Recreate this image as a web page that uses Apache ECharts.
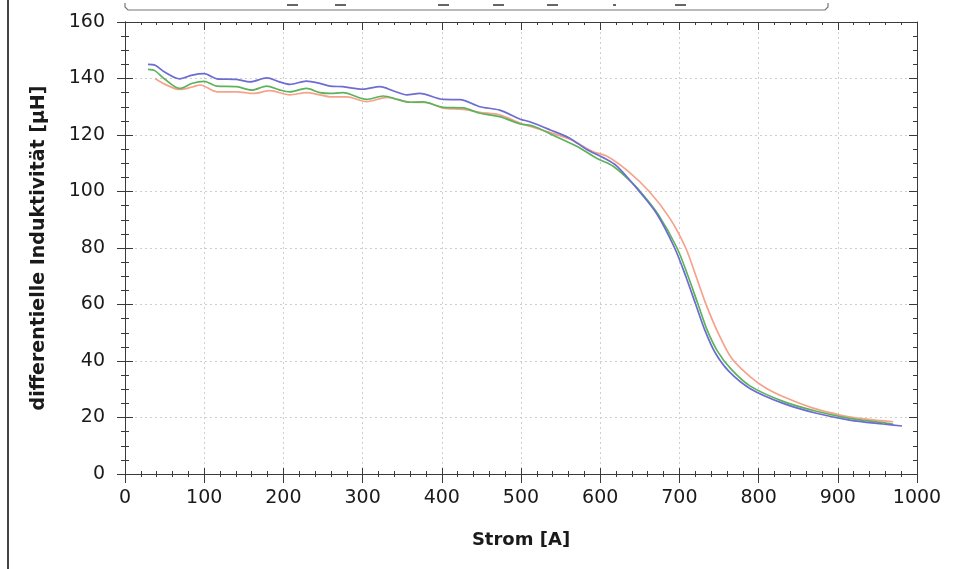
<!DOCTYPE html>
<html>
<head>
<meta charset="utf-8">
<script src="https://cdn.jsdelivr.net/npm/echarts@6/dist/echarts.min.js"></script>
<style>
html,body{margin:0;padding:0;background:#fff;}
#c{width:954px;height:569px;}
</style>
</head>
<body>
<div id="c"></div>
<script>
// Strom [A] / differentielle Induktivität [µH]
const blueX = [29, 38, 50, 69, 85, 100, 116, 141, 158, 179, 195, 208, 229, 246, 259, 275, 300, 322, 340, 356, 372, 402, 423, 448, 473, 499, 511, 537, 562, 583, 603, 621, 648, 671, 694, 708, 720, 732, 745, 762, 789, 831, 873, 915, 957, 981];
const blueY = [145.0, 144.7, 142.3, 139.9, 141.2, 141.7, 139.9, 139.7, 138.8, 140.2, 138.8, 137.9, 139.1, 138.3, 137.3, 137.1, 136.2, 137.1, 135.5, 134.2, 134.7, 132.6, 132.5, 130.0, 128.8, 125.6, 124.7, 121.8, 118.8, 114.9, 112.1, 109.0, 100.5, 92.3, 80.0, 70.0, 60.5, 51.0, 43.0, 36.5, 30.3, 25.0, 21.5, 19.1, 17.7, 17.0];

const greenX = [29, 38, 50, 69, 85, 100, 116, 141, 160, 179, 195, 208, 229, 246, 259, 275, 305, 326, 345, 360, 376, 402, 427, 448, 473, 499, 515, 540, 571, 596, 616, 634, 650, 673, 697, 711, 723, 735, 748, 765, 789, 831, 873, 915, 957, 970];
const greenY = [143.2, 142.7, 139.8, 136.5, 138.3, 139.0, 137.3, 137.1, 135.9, 137.3, 136.0, 135.3, 136.5, 135.0, 134.7, 135.0, 132.6, 133.8, 132.5, 131.6, 131.7, 129.8, 129.6, 127.7, 126.5, 123.9, 123.2, 120.0, 115.9, 111.7, 109.0, 104.7, 100.2, 92.0, 80.0, 70.0, 60.5, 51.0, 43.5, 37.2, 31.2, 25.7, 22.2, 19.7, 18.2, 17.6];

const redX = [38, 50, 69, 85, 95, 116, 141, 162, 183, 208, 229, 246, 259, 280, 305, 331, 360, 380, 402, 427, 448, 473, 499, 533, 562, 591, 608, 634, 662, 688, 708, 721, 733, 748, 766, 790, 810, 836, 869, 903, 936, 970];
const redY = [140.0, 138.0, 136.1, 137.0, 137.7, 135.3, 135.3, 134.7, 135.7, 134.2, 135.0, 134.2, 133.5, 133.5, 131.8, 133.3, 131.6, 131.5, 129.5, 129.1, 128.0, 127.1, 124.2, 121.2, 118.5, 114.1, 112.6, 107.5, 100.0, 90.5, 80.0, 70.0, 60.5, 50.5, 41.0, 34.3, 30.3, 26.8, 23.3, 20.9, 19.4, 18.5];

const xTicks = [0, 100, 200, 300, 400, 500, 600, 700, 800, 900, 1000];
const yTicks = [0, 20, 40, 60, 80, 100, 120, 140, 160];

const zip = (xs, ys) => xs.map((x, i) => [x, ys[i]]);

const FONT = 'DejaVu Sans';
const AX = '#3a3a3a';
const gridLine = {show: true, lineStyle: {color: '#cfcfcf', type: [2, 3], width: 1}};

function xAx(opts) {
  return Object.assign({
    type: 'value', min: xTicks[0], max: xTicks[xTicks.length - 1], interval: 100,
    axisLine: {show: true, onZero: false, lineStyle: {color: AX, width: 1}},
    axisLabel: {show: false},
    splitLine: {show: false},
  }, opts);
}
function yAx(opts) {
  return Object.assign({
    type: 'value', min: yTicks[0], max: yTicks[yTicks.length - 1], interval: 20,
    axisLine: {show: true, onZero: false, lineStyle: {color: AX, width: 1}},
    axisLabel: {show: false},
    splitLine: {show: false},
  }, opts);
}

const chart = echarts.init(document.getElementById('c'), null, {renderer: 'canvas'});
chart.setOption({
  backgroundColor: '#fff',
  animation: false,
  grid: {left: 125, right: 37, top: 22, bottom: 95, containLabel: false},
  xAxis: [
    xAx({position: 'bottom',
      name: 'Strom [A]', nameLocation: 'middle', nameGap: 57,
      nameTextStyle: {fontFamily: FONT, fontWeight: 'bold', fontSize: 18, color: '#1a1a1a'},
      axisTick: {show: true, inside: false, length: 9, lineStyle: {color: AX}},
      minorTick: {show: true, splitNumber: 5, length: 3, lineStyle: {color: AX}},
      axisLabel: {show: true, margin: 15, fontFamily: FONT, fontSize: 19, color: '#1a1a1a',
        formatter: v => String(v)},
      splitLine: gridLine}),
    xAx({position: 'bottom',
      axisTick: {show: true, inside: true, length: 6, lineStyle: {color: AX}},
      minorTick: {show: true, splitNumber: 5, length: 3, lineStyle: {color: AX}}}),
    xAx({position: 'top',
      axisTick: {show: true, inside: true, length: 8, lineStyle: {color: AX}},
      minorTick: {show: true, splitNumber: 5, length: 3, lineStyle: {color: AX}}})
  ],
  yAxis: [
    yAx({position: 'left',
      name: 'differentielle Induktivität [µH]', nameLocation: 'middle', nameGap: 76,
      nameTextStyle: {fontFamily: FONT, fontWeight: 'bold', fontSize: 19, color: '#1a1a1a'},
      axisTick: {show: true, inside: false, length: 8, lineStyle: {color: AX}},
      minorTick: {show: true, splitNumber: 4, length: 4, lineStyle: {color: AX}},
      axisLabel: {show: true, margin: 20, fontFamily: FONT, fontSize: 19, color: '#1a1a1a'},
      splitLine: gridLine}),
    yAx({position: 'left',
      axisTick: {show: true, inside: true, length: 8, lineStyle: {color: AX}},
      minorTick: {show: true, splitNumber: 4, length: 4, lineStyle: {color: AX}}}),
    yAx({position: 'right',
      axisTick: {show: true, inside: true, length: 8, lineStyle: {color: AX}},
      minorTick: {show: true, splitNumber: 4, length: 4, lineStyle: {color: AX}}})
  ],
  series: [
    {type: 'line', name: 'rot', data: zip(redX, redY), smooth: 0.3, showSymbol: false,
      lineStyle: {color: '#f6a28a', width: 1.7}, xAxisIndex: 0, yAxisIndex: 0, z: 2},
    {type: 'line', name: 'grün', data: zip(greenX, greenY), smooth: 0.3, showSymbol: false,
      lineStyle: {color: '#5cb35c', width: 1.7}, xAxisIndex: 0, yAxisIndex: 0, z: 3},
    {type: 'line', name: 'blau', data: zip(blueX, blueY), smooth: 0.3, showSymbol: false,
      lineStyle: {color: '#6c6cd2', width: 1.7}, xAxisIndex: 0, yAxisIndex: 0, z: 4}
  ],
  graphic: [
    {type: 'line', shape: {x1: 8, y1: 0, x2: 8, y2: 569}, style: {stroke: '#444', lineWidth: 2}},
    {type: 'polyline', shape: {points: [[125, 3], [125, 7], [128, 10], [825, 10], [828, 7], [828, 3]]},
      style: {stroke: '#777', lineWidth: 1.2, fill: null}},
    {type: 'rect', shape: {x: 287, y: 4, width: 11, height: 2}, style: {fill: '#666'}},
    {type: 'rect', shape: {x: 335, y: 4, width: 11, height: 2}, style: {fill: '#666'}},
    {type: 'rect', shape: {x: 438, y: 4, width: 11, height: 2}, style: {fill: '#666'}},
    {type: 'rect', shape: {x: 493, y: 4, width: 11, height: 2}, style: {fill: '#666'}},
    {type: 'rect', shape: {x: 547, y: 4, width: 11, height: 2}, style: {fill: '#666'}},
    {type: 'rect', shape: {x: 613, y: 4, width: 3, height: 2}, style: {fill: '#666'}},
    {type: 'rect', shape: {x: 675, y: 4, width: 11, height: 2}, style: {fill: '#666'}}
  ]
});
</script>
</body>
</html>
